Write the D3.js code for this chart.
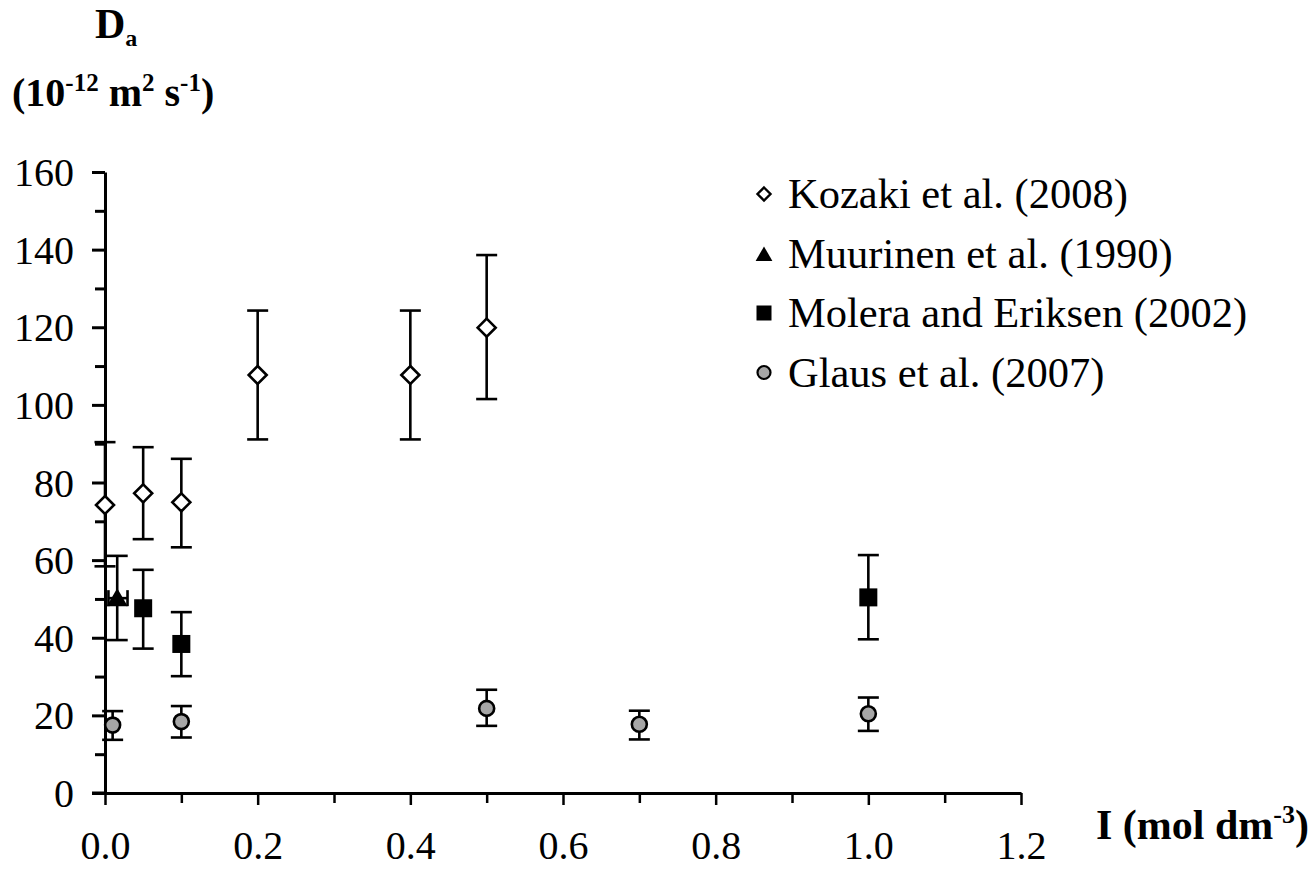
<!DOCTYPE html>
<html>
<head>
<meta charset="utf-8">
<script src="https://cdn.jsdelivr.net/npm/d3@7"></script>
<style>
  body { margin: 0; background: #fff; }
  svg text { font-family: "Liberation Serif", "Times New Roman", serif; fill: #000; }
</style>
</head>
<body>
<div id="chart"></div>
<script>
// data: x = ionic strength, y = Da, lo/hi = error bar ends
const kozakiX  = [0, 0.05, 0.1, 0.2, 0.4, 0.5];
const kozakiY  = [74.2, 77.2, 74.9, 107.7, 107.7, 119.9];
const kozakiLo = [58.4, 65.4, 63.3, 91.1, 91.1, 101.5];
const kozakiHi = [90.4, 89.1, 86.1, 124.3, 124.3, 138.6];

const muurinenX   = [0.016];
const muurinenY   = [50.2];
const muurinenLo  = [39.4];
const muurinenHi  = [61.1];
const muurinenXLo = [0.0045];
const muurinenXHi = [0.0295];

const moleraX  = [0.05, 0.1, 1.0];
const moleraY  = [47.6, 38.4, 50.4];
const moleraLo = [37.2, 30.1, 39.6];
const moleraHi = [57.5, 46.6, 61.3];

const glausX  = [0.01, 0.1, 0.5, 0.7, 1.0];
const glausY  = [17.5, 18.4, 21.8, 17.7, 20.4];
const glausLo = [13.7, 14.3, 17.3, 13.8, 16.0];
const glausHi = [21.1, 22.4, 26.6, 21.2, 24.6];

const legendLabels = ["Kozaki et al. (2008)", "Muurinen et al. (1990)",
  "Molera and Eriksen (2002)", "Glaus et al. (2007)"];
const xTickLabels = [0, 0.2, 0.4, 0.6, 0.8, 1.0, 1.2];
const yTickLabels = [0, 20, 40, 60, 80, 100, 120, 140, 160];

const W = 1312, H = 870;

const svg = d3.select("#chart").append("svg")
  .attr("width", W).attr("height", H);

const x = d3.scaleLinear().domain([0, 1.2]).range([105, 1021]);
const y = d3.scaleLinear().domain([0, 160]).range([793, 172]);

// y axis: minor ticks, then major ticks with labels
svg.append("g")
  .attr("transform", `translate(${x(0)},0)`)
  .call(d3.axisLeft(y).tickValues(d3.range(10, 160, 20)).tickSize(10).tickFormat(""))
  .call(g => g.select(".domain").remove())
  .call(g => g.selectAll("line").attr("stroke-width", 3));
svg.append("g")
  .attr("transform", `translate(${x(0)},0)`)
  .call(d3.axisLeft(y).tickValues(yTickLabels).tickSize(13).tickSizeOuter(0).tickPadding(18))
  .call(g => g.select(".domain").attr("stroke-width", 3))
  .call(g => g.selectAll("line").attr("stroke-width", 3))
  .call(g => g.selectAll("text").attr("font-size", 40).attr("dy", "0.34em")
    .style("font-family", "Liberation Serif"));

// x axis
svg.append("g")
  .attr("transform", `translate(0,${y(0)})`)
  .call(d3.axisBottom(x).tickValues(d3.range(0.1, 1.2, 0.2)).tickSize(10).tickFormat(""))
  .call(g => g.select(".domain").remove())
  .call(g => g.selectAll("line").attr("stroke-width", 2.5));
svg.append("g")
  .attr("transform", `translate(0,${y(0)})`)
  .call(d3.axisBottom(x).tickValues(xTickLabels).tickSize(12).tickSizeOuter(0)
    .tickPadding(26).tickFormat(d3.format(".1f")))
  .call(g => g.select(".domain").attr("stroke-width", 3))
  .call(g => g.selectAll("line").attr("stroke-width", 2.5))
  .call(g => g.selectAll("text").attr("font-size", 40).attr("dy", "0.71em")
    .style("font-family", "Liberation Serif"));

// small piece of x axis running left of the y axis
svg.append("line")
  .attr("x1", x(0) - 13).attr("x2", x(0))
  .attr("y1", y(0)).attr("y2", y(0))
  .attr("stroke", "#000").attr("stroke-width", 3);

// axis titles
const yt = svg.append("text").attr("x", 95).attr("y", 38)
  .attr("font-size", 42).attr("font-weight", "bold");
yt.append("tspan").text("D");
yt.append("tspan").attr("font-size", 24).attr("dy", 8).text("a");

const yu = svg.append("text").attr("x", 12).attr("y", 106)
  .attr("font-size", 40).attr("font-weight", "bold");
yu.append("tspan").text("(10");
yu.append("tspan").attr("font-size", 25).attr("dy", -15).text("-12");
yu.append("tspan").attr("dy", 15).text(" m");
yu.append("tspan").attr("font-size", 25).attr("dy", -15).text("2");
yu.append("tspan").attr("dy", 15).text(" s");
yu.append("tspan").attr("font-size", 25).attr("dy", -15).text("-1");
yu.append("tspan").attr("dy", 15).text(")");

const xt = svg.append("text").attr("x", 1096).attr("y", 839)
  .attr("font-size", 42).attr("font-weight", "bold");
xt.append("tspan").text("I (mol dm");
xt.append("tspan").attr("font-size", 26).attr("dy", -16).text("-3");
xt.append("tspan").attr("dy", 16).text(")");

// helpers
function series(xs, ys, lo, hi) {
  return xs.map((v, i) => ({x: v, y: ys[i], lo: lo[i], hi: hi[i]}));
}
const kozaki = series(kozakiX, kozakiY, kozakiLo, kozakiHi);
const muurinen = series(muurinenX, muurinenY, muurinenLo, muurinenHi)
  .map((d, i) => ({...d, xlo: muurinenXLo[i], xhi: muurinenXHi[i]}));
const molera = series(moleraX, moleraY, moleraLo, moleraHi);
const glaus = series(glausX, glausY, glausLo, glausHi);

const cap = 10.5;
function errorBars(data) {
  const g = svg.append("g").attr("stroke", "#000").attr("stroke-width", 2.6);
  g.selectAll(".v").data(data).join("line")
    .attr("x1", d => x(d.x)).attr("x2", d => x(d.x))
    .attr("y1", d => y(d.lo)).attr("y2", d => y(d.hi));
  g.selectAll(".ct").data(data).join("line")
    .attr("x1", d => x(d.x) - cap).attr("x2", d => x(d.x) + cap)
    .attr("y1", d => y(d.hi)).attr("y2", d => y(d.hi));
  g.selectAll(".cb").data(data).join("line")
    .attr("x1", d => x(d.x) - cap).attr("x2", d => x(d.x) + cap)
    .attr("y1", d => y(d.lo)).attr("y2", d => y(d.lo));
}

errorBars(kozaki);
errorBars(muurinen);
errorBars(molera);
errorBars(glaus);

// horizontal error bar on the Muurinen point
const hx = svg.append("g").attr("stroke", "#000").attr("stroke-width", 2.6);
hx.selectAll(".h").data(muurinen).join("line")
  .attr("x1", d => x(d.xlo)).attr("x2", d => x(d.xhi))
  .attr("y1", d => y(d.y)).attr("y2", d => y(d.y));
hx.selectAll(".l").data(muurinen).join("line")
  .attr("x1", d => x(d.xlo)).attr("x2", d => x(d.xlo))
  .attr("y1", d => y(d.y) - 8).attr("y2", d => y(d.y) + 8);
hx.selectAll(".r").data(muurinen).join("line")
  .attr("x1", d => x(d.xhi)).attr("x2", d => x(d.xhi))
  .attr("y1", d => y(d.y) - 8).attr("y2", d => y(d.y) + 8);

// marker shapes
const diamond = s => `M0,${-s}L${s},0L0,${s}L${-s},0Z`;
const triangle = s => `M0,${-s}L${s * 1.05},${s * 0.8}L${-s * 1.05},${s * 0.8}Z`;

svg.append("g").selectAll("path").data(kozaki).join("path")
  .attr("d", diamond(9))
  .attr("transform", d => `translate(${x(d.x)},${y(d.y)})`)
  .attr("fill", "#fff").attr("stroke", "#000").attr("stroke-width", 2.6);

svg.append("g").selectAll("path").data(muurinen).join("path")
  .attr("d", triangle(10))
  .attr("transform", d => `translate(${x(d.x)},${y(d.y)})`)
  .attr("fill", "#000");

svg.append("g").selectAll("rect").data(molera).join("rect")
  .attr("x", d => x(d.x) - 9).attr("y", d => y(d.y) - 9)
  .attr("width", 18).attr("height", 18)
  .attr("fill", "#000");

svg.append("g").selectAll("circle").data(glaus).join("circle")
  .attr("cx", d => x(d.x)).attr("cy", d => y(d.y)).attr("r", 7.5)
  .attr("fill", "#a6a6a6").attr("stroke", "#000").attr("stroke-width", 2.6);

// legend
const lg = svg.append("g").attr("transform", "translate(764,194)");
const row = 59.5;
lg.append("path").attr("d", diamond(6.5)).attr("transform", "translate(0,0)")
  .attr("fill", "#fff").attr("stroke", "#000").attr("stroke-width", 2.4);
lg.append("path").attr("d", triangle(8)).attr("transform", `translate(0,${row + 1})`)
  .attr("fill", "#000");
lg.append("rect").attr("x", -7.5).attr("y", row * 2 - 7.5)
  .attr("width", 15).attr("height", 15).attr("fill", "#000");
lg.append("circle").attr("cx", 0).attr("cy", row * 3).attr("r", 6.5)
  .attr("fill", "#a6a6a6").attr("stroke", "#000").attr("stroke-width", 2.2);
lg.selectAll("text").data(legendLabels).join("text")
  .attr("x", 24).attr("y", (d, i) => i * row + 14)
  .attr("font-size", 42.5)
  .text(d => d);
</script>
</body>
</html>
